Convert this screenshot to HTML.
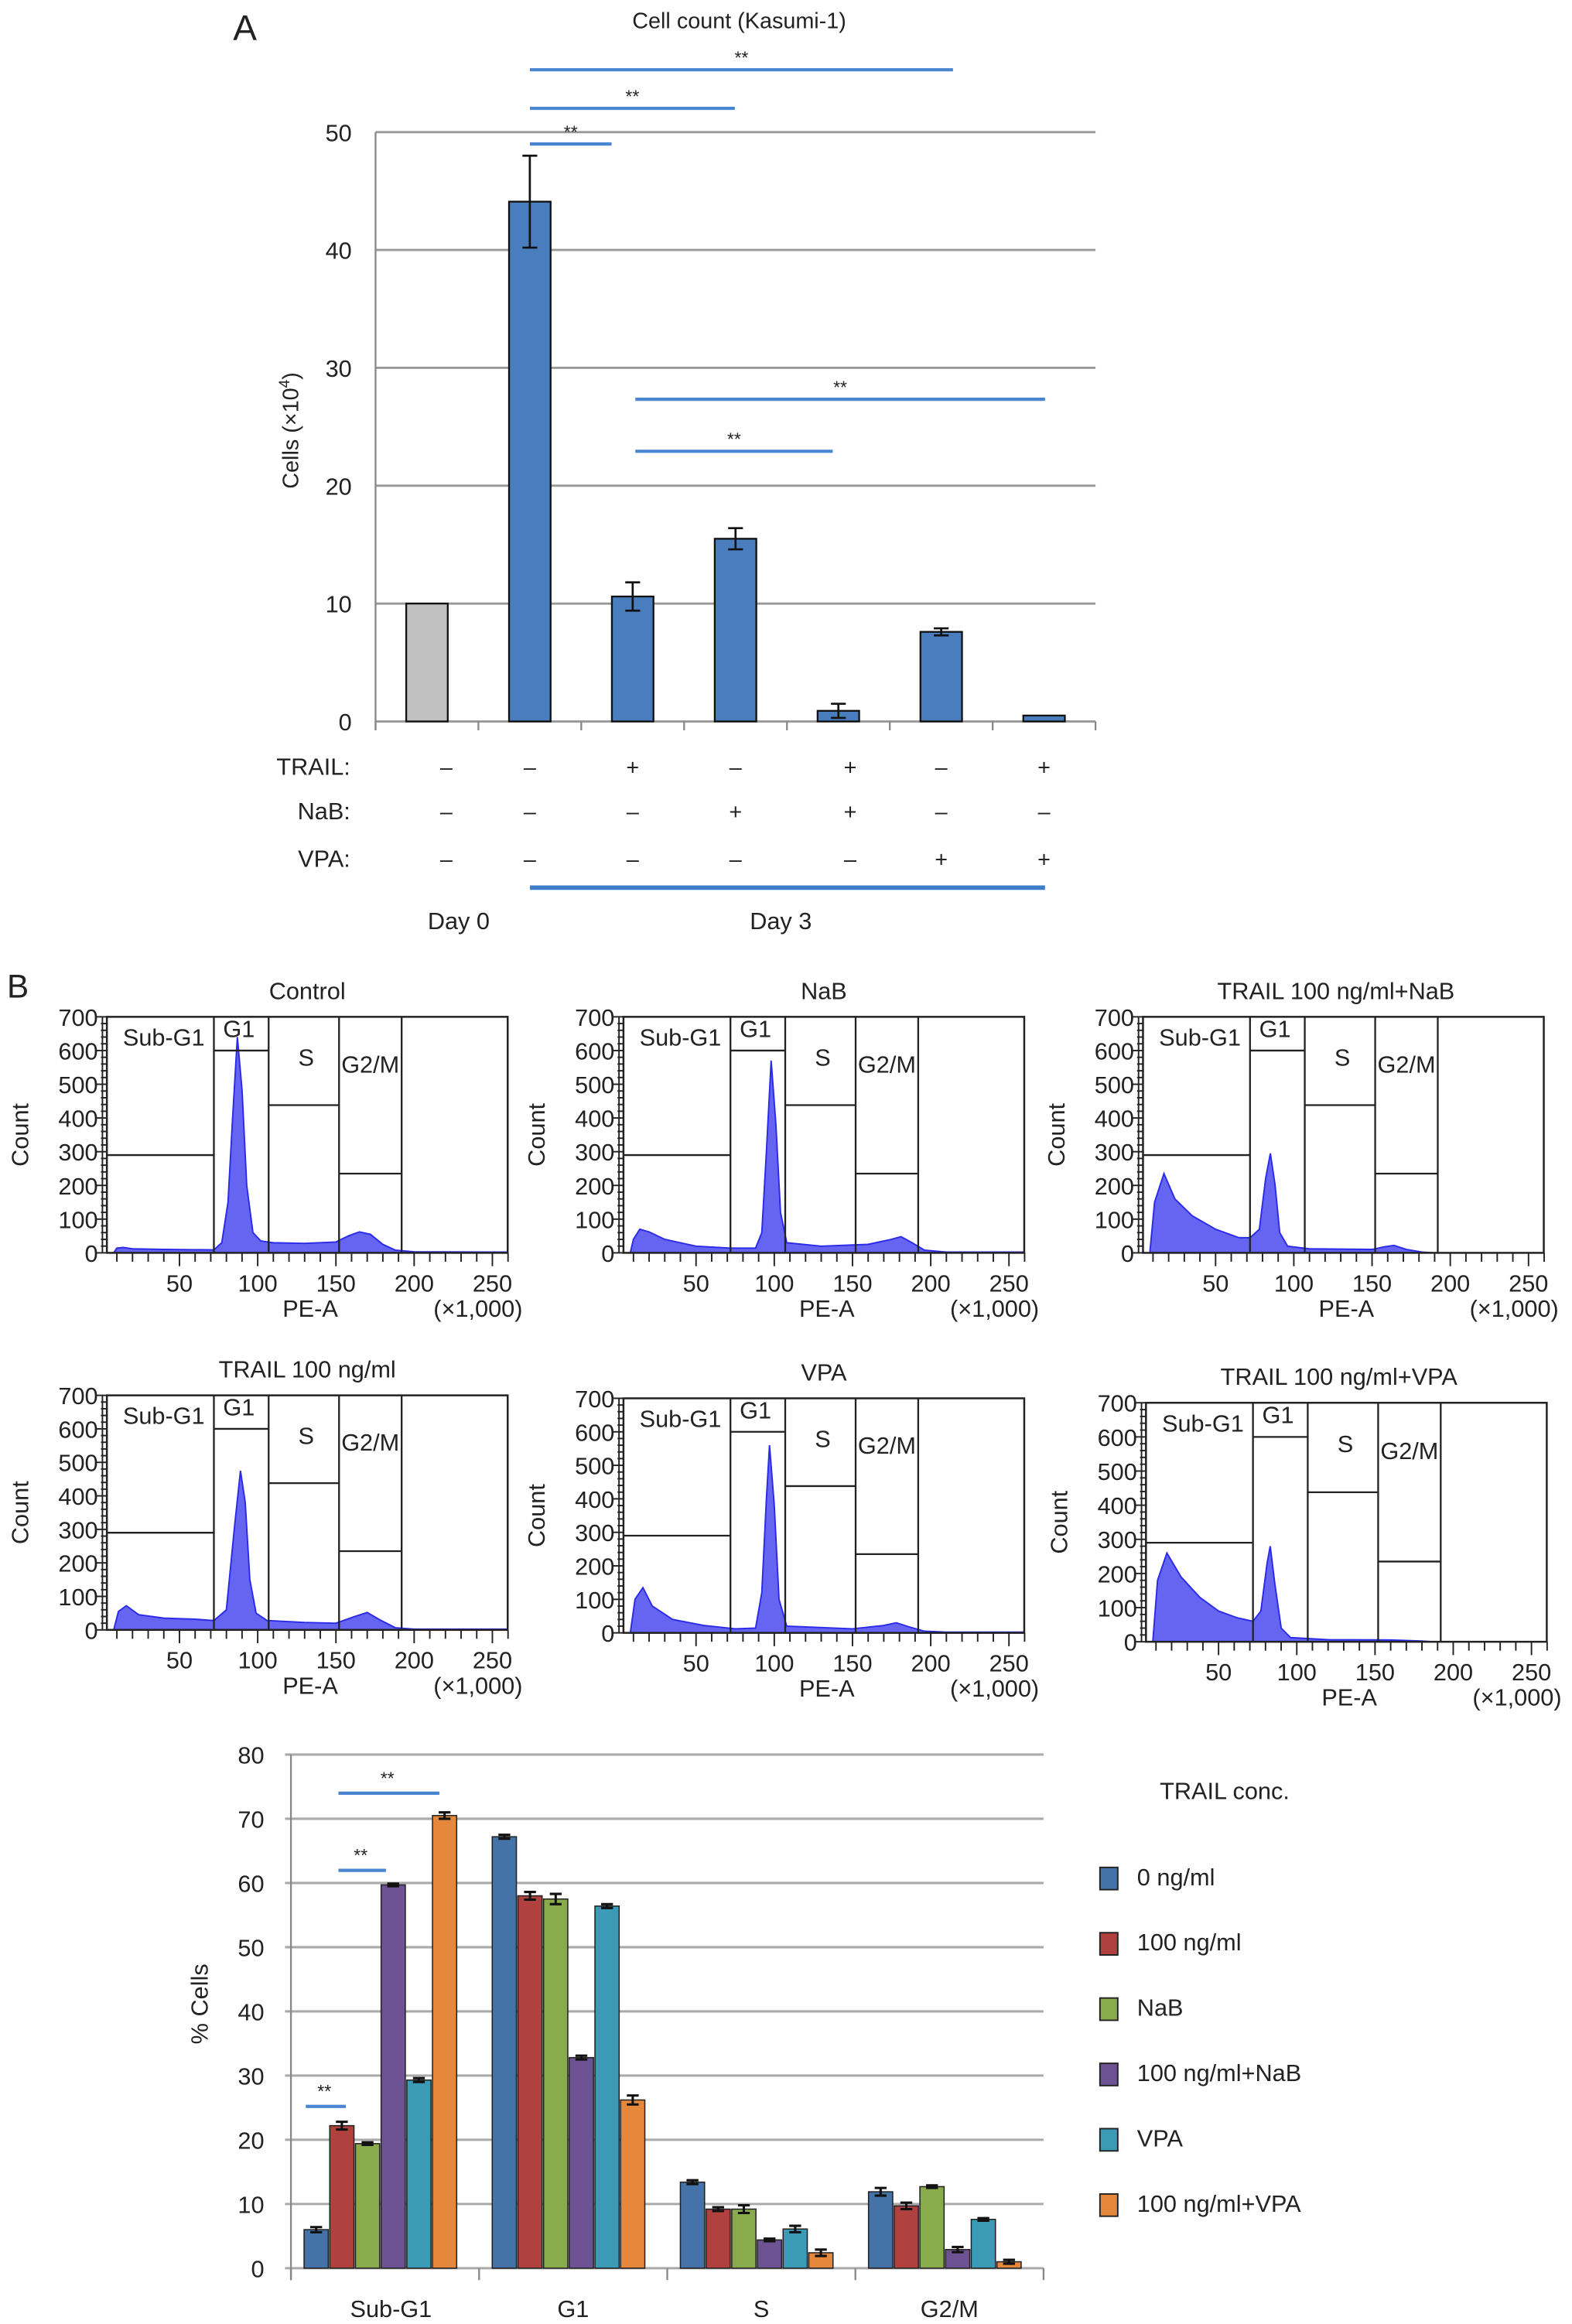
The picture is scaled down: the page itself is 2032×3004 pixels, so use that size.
<!DOCTYPE html>
<html><head><meta charset="utf-8">
<style>
html,body{margin:0;padding:0;background:#fff;}
svg{display:block;font-family:"Liberation Sans",sans-serif;}
</style></head>
<body>
<svg id="fig" width="2032" height="3004" viewBox="0 0 1059 1565.6" preserveAspectRatio="none" xmlns="http://www.w3.org/2000/svg"></svg>
<script>
// ---------- Panel A data ----------
const aValues = [10, 44.1, 10.6, 15.5, 0.9, 7.6, 0.5];
const aErrors = [0, 3.9, 1.2, 0.9, 0.6, 0.3, 0];
const aTicks = [0, 10, 20, 30, 40, 50];
const aTrail = ['–','–','+','–','+','–','+'];
const aNaB = ['–','–','–','+','+','–','–'];
const aVPA = ['–','–','–','–','–','+','+'];
// ---------- Panel B histogram data (PE-A x1000, count) ----------
const histTitles = ['Control','NaB','TRAIL 100 ng/ml+NaB','TRAIL 100 ng/ml','VPA','TRAIL 100 ng/ml+VPA'];
const histControl = [[8,0],[10,14],[14,16],[20,12],[40,10],[72,9],[77,30],[81,150],[84,400],[87,640],[90,480],[93,200],[97,60],[102,35],[110,30],[130,28],[150,32],[158,50],[165,62],[172,55],[180,25],[188,8],[200,3],[262,2],[263,0]];
const histNaB = [[8,0],[10,40],[14,70],[20,62],[30,40],[50,20],[72,14],[88,14],[92,60],[95,300],[98,570],[101,380],[104,120],[108,30],[130,20],[160,25],[175,40],[181,48],[188,30],[196,8],[210,2],[262,2],[263,0]];
const histTN = [[8,0],[11,150],[17,235],[24,160],[35,110],[50,70],[65,45],[72,45],[78,70],[82,220],[85,295],[88,200],[91,60],[96,20],[110,12],[150,10],[158,18],[164,22],[172,10],[182,2],[190,0]];
const histTRAIL = [[8,0],[11,55],[16,72],[24,45],[40,35],[60,32],[72,28],[80,60],[85,300],[89,475],[92,380],[95,150],[99,50],[106,28],[130,22],[150,20],[162,40],[170,52],[178,30],[188,6],[200,2],[262,2],[263,0]];
const histVPA = [[8,0],[11,100],[16,135],[22,80],[35,40],[55,22],[75,12],[88,14],[92,120],[95,400],[97,560],[100,380],[103,100],[108,20],[150,12],[170,22],[178,30],[186,18],[196,5],[210,2],[262,2],[263,0]];
const histTV = [[8,0],[11,180],[17,260],[26,190],[38,130],[50,90],[62,70],[72,60],[77,90],[81,230],[83,280],[86,170],[90,40],[96,12],[120,6],[160,5],[180,2],[186,0]];
const histGates = [[72,290],[107,600],[152,438],[192,235]];
// ---------- Panel C data ----------
const cCats = ['Sub-G1','G1','S','G2/M'];
const cSeries = ['0 ng/ml','100 ng/ml','NaB','100 ng/ml+NaB','VPA','100 ng/ml+VPA'];
const c0 = [6.0, 67.2, 13.4, 11.9];
const c100 = [22.2, 58.0, 9.2, 9.7];
const cNaB = [19.4, 57.5, 9.2, 12.7];
const c100NaB = [59.7, 32.8, 4.4, 2.9];
const cVPA = [29.3, 56.4, 6.1, 7.6];
const c100VPA = [70.5, 26.2, 2.4, 1.0];
const cErr0 = [0.4,0.3,0.3,0.6];
const cErr100 = [0.6,0.6,0.3,0.5];
const cErrNaB = [0.2,0.8,0.6,0.2];
const cErr100NaB = [0.2,0.3,0.2,0.4];
const cErrVPA = [0.3,0.3,0.5,0.2];
const cErr100VPA = [0.5,0.7,0.5,0.3];
const cTicks = [0,10,20,30,40,50,60,70,80];

const NS='http://www.w3.org/2000/svg';
const svg=document.getElementById('fig');
function mk(tag,attrs,parent){const e=document.createElementNS(NS,tag);for(const k in attrs)e.setAttribute(k,attrs[k]);(parent||svg).appendChild(e);return e;}
function txt(s,x,y,size,anchor,parent,extra){const t=mk('text',Object.assign({x:x,y:y,'font-size':size,'text-anchor':anchor||'middle',fill:'#222'},extra||{}),parent);t.textContent=s;return t;}

// ================= PANEL A =================
const gA=mk('g',{});


const aL=253,aR=738,aY0=486,aY50=89;
const ay=v=>aY0+(aY50-aY0)*v/50;
const acw=(aR-aL)/7;
const ax=i=>aL+acw*(i+0.5);
let t=txt('A',165,27,24,'middle',gA);
t=txt('Cell count (Kasumi-1)',498,19,15,'middle',gA);
aTicks.forEach(v=>{
  const l=mk('line',{x1:aL,x2:aR,y1:ay(v),y2:ay(v),stroke:'#999','stroke-width':1.5},gA);
  
  const tt=txt(String(v),237,ay(v)+6,16,'end',gA);
  
});
mk('line',{x1:aL,x2:aL,y1:aY50,y2:aY0+6,stroke:'#888','stroke-width':1.2},gA);
for(let i=0;i<=7;i++){const l=mk('line',{x1:aL+acw*i,x2:aL+acw*i,y1:aY0,y2:aY0+6,stroke:'#888','stroke-width':1.2},gA);}
t=txt('Cells (×10',0,0,15,'middle',gA,{transform:'translate(201,290) rotate(-90)'});

const sup=mk('tspan',{'font-size':10,dy:-6},t);sup.textContent='4';
const cl=mk('tspan',{dy:6},t);cl.textContent=')';
const bw=28;
aValues.forEach((v,i)=>{
  const r=mk('rect',{x:ax(i)-bw/2,y:ay(v),width:bw,height:aY0-ay(v),fill:i===0?'#c0c0c0':'#4a7dbd',stroke:'#111','stroke-width':1.2},gA);
  
  
  if(aErrors[i]>0){
    const e=mk('path',{d:`M${ax(i)},${ay(v+aErrors[i])}V${ay(v-aErrors[i])}M${ax(i)-5},${ay(v+aErrors[i])}h10M${ax(i)-5},${ay(v-aErrors[i])}h10`,stroke:'#111','stroke-width':1.4,fill:'none'},gA);
    
  }
});
[['TRAIL:',517,aTrail],['NaB:',547,aNaB],['VPA:',579,aVPA]].forEach(([lab,y,arr])=>{
  const tl=txt(lab,236,y+5,16,'end',gA);
  
  arr.forEach((m,i)=>{const tm=txt(m,ax(i)+(i===0?13:(i===4?8:0)),y+5,15,'middle',gA);
    });
});
let dl=mk('line',{x1:357,x2:704,y1:598,y2:598,stroke:'#3d7cc9','stroke-width':3},gA);

t=txt('Day 0',309,626,16,'middle',gA);
t=txt('Day 3',526,626,16,'middle',gA);
[[357,642,47],[357,495,73],[357,412,97],[428,704,269],[428,561,304]].forEach(([x1,x2,y])=>{
  const l=mk('line',{x1:x1,x2:x2,y1:y,y2:y,stroke:'#4a86d0','stroke-width':2.2},gA);
  
  const s=txt('**',(x1+x2)/2,y-4,12,'middle',gA);
});

// ================= PANEL B =================
t=txt('B',12,672,22,'middle',svg);
const histData=[histControl,histNaB,histTN,histTRAIL,histVPA,histTV];
const panels=[[72,685,159],[420,685,159],[770,685,159],[72,940,158],[420,942,158],[772,945,161]];
const PW=270;
panels.forEach(([px,py,ph],k)=>{
  const g=mk('g',{});
  
  
  const hx=v=>px-3.8+1.054*v;
  const hy=c=>py+ph-ph*c/700;
  const ti=txt(histTitles[k],px+PW/2+(k%3===2?-5:0),py-12,16,'middle',g);
  
  let d='M'+hx(histData[k][0][0])+','+hy(0);
  histData[k].forEach(p=>{d+='L'+Math.min(hx(p[0]),px+PW).toFixed(1)+','+hy(p[1]).toFixed(1);});
  d+='Z';
  const a=mk('path',{d:d,fill:'#6565f2',stroke:'#2a2ae8','stroke-width':1},g);
  
  const bx=mk('rect',{x:px,y:py,width:PW,height:ph,fill:'none',stroke:'#222','stroke-width':1.3},g);
  
  let prev=px;
  histGates.forEach(([gx,gc],j)=>{
    const X=hx(gx);
    const v=mk('line',{x1:X,x2:X,y1:py,y2:py+ph,stroke:'#222','stroke-width':1.2},g);
    
    const h=mk('line',{x1:prev,x2:X,y1:hy(gc),y2:hy(gc),stroke:'#222','stroke-width':1.2},g);
    
    prev=X;
  });
  const gl=[['Sub-G1',hx(40),hy(615)],['G1',hx(88),hy(640)],['S',hx(131),hy(555)],['G2/M',hx(172),hy(535)]];
  gl.forEach(([s,x,y])=>{const l=txt(s,x,y,16,'middle',g);});
  for(let c=0;c<=700;c+=20){
    const major=c%100===0;
    const l=mk('line',{x1:px-(major?7:4),x2:px,y1:hy(c),y2:hy(c),stroke:'#222','stroke-width':1},g);
    
    if(major){const tl=txt(String(c),px-6,hy(c)+6,16,'end',g);}
  }
  mk('line',{x1:px-3,x2:px-3,y1:py,y2:py+ph,stroke:'#222','stroke-width':1},g);
  for(let v=10;v<=260;v+=10){
    const major=v%50===0;
    const l=mk('line',{x1:hx(v),x2:hx(v),y1:py+ph,y2:py+ph+(major?9:6),stroke:'#222','stroke-width':1},g);
    
    if(major){const tl=txt(String(v),hx(v),py+ph+26,16,'middle',g);}
  }
  const xl=txt('PE-A',px+137,py+ph+43,16,'middle',g);
  const xu=txt('(×1,000)',px+250,py+ph+43,16,'middle',g);
  const yl=txt('Count',0,0,16,'middle',g,{transform:`translate(${px-53},${py+ph/2}) rotate(-90)`});
  
});

// ================= PANEL C =================
const gC=mk('g',{});


const cL=196,cR=703,cY0=1528,cY80=1182;
const cy=v=>cY0+(cY80-cY0)*v/80;
const gw=(cR-cL)/4;
const cbw=17.3;
const cx=(g,s)=>cL+17+gw*g+cbw*s;
const colors=['#4572a7','#b0413e','#8aab4b','#6d5393','#3b9bb6','#e5883b'];
const seriesVals=[c0,c100,cNaB,c100NaB,cVPA,c100VPA];
const seriesErr=[cErr0,cErr100,cErrNaB,cErr100NaB,cErrVPA,cErr100VPA];
cTicks.forEach(v=>{
  const l=mk('line',{x1:cL-4,x2:cR,y1:cy(v),y2:cy(v),stroke:'#aaa','stroke-width':1.6},gC);
  
  const tl=txt(String(v),178,cy(v)+6,16,'end',gC);
});
mk('line',{x1:cL,x2:cL,y1:cY80,y2:cY0+8,stroke:'#888','stroke-width':1.2},gC);
for(let i=0;i<=4;i++){const l=mk('line',{x1:cL+gw*i,x2:cL+gw*i,y1:cY0,y2:cY0+8,stroke:'#888','stroke-width':1.2},gC);}
t=txt('% Cells',0,0,16,'middle',gC,{transform:'translate(140,1350) rotate(-90)'});
cCats.forEach((c,i)=>{const tl=txt(c,cL+gw*(i+0.5)+(i===0?4:0),1561,16,'middle',gC);});
seriesVals.forEach((arr,s)=>{
  arr.forEach((v,g)=>{
    const x=cx(g,s);
    const r=mk('rect',{x:x-cbw/2+0.5,y:cy(v),width:cbw-1,height:cY0-cy(v),fill:colors[s],stroke:'#222','stroke-width':0.8},gC);
    
    
    const e=seriesErr[s][g];
    const eb=mk('path',{d:`M${x},${cy(v+e)}V${cy(v-e)}M${x-4},${cy(v+e)}h8M${x-4},${cy(v-e)}h8`,stroke:'#111','stroke-width':1.6,fill:'none'},gC);
    
  });
});
[[206,233,1419],[228,260,1260],[228,296,1208]].forEach(([x1,x2,y])=>{
  const l=mk('line',{x1:x1,x2:x2,y1:y,y2:y,stroke:'#4a86d0','stroke-width':2.2},gC);
  
  const s=txt('**',(x1+x2)/2-1,y-6,12,'middle',gC);
});
const lg=mk('g',{},gC);


t=txt('TRAIL conc.',825,1212,16,'middle',lg);
cSeries.forEach((s,i)=>{
  const y=1265+44*i;
  const r=mk('rect',{x:741,y:y-7,width:12,height:15,fill:colors[i],stroke:'#222','stroke-width':1},lg);
  
  const tl=txt(s,766,y+5,16,'start',lg);
});
</script>
</body></html>
